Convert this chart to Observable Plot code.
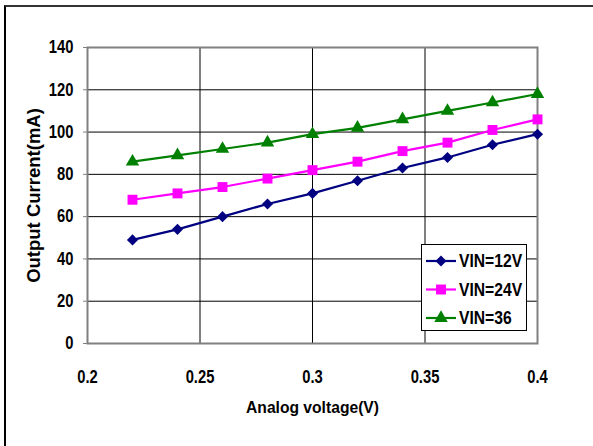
<!DOCTYPE html>
<html>
<head>
<meta charset="utf-8">
<script src="https://cdn.jsdelivr.net/npm/d3@7"></script>
<script src="https://cdn.jsdelivr.net/npm/@observablehq/plot@0.6"></script>
<style>
  html, body { margin: 0; padding: 0; background: #fff; overflow: hidden; width: 593px; height: 446px; }
  #outer { position: absolute; left: 4px; top: 5px; width: 700px; height: 500px; border-left: 2px solid #000; border-top: 2px solid #333; }
  #chart { position: absolute; left: 0; top: 0; }
  #legend { position: absolute; left: 421px; top: 244px; width: 104px; height: 85px; border: 1px solid #000; background: #fff; }
  #legend svg { overflow: visible; display: block; }
</style>
</head>
<body>
<div id="outer"></div>
<div id="chart"></div>
<div id="legend"></div>
<script>
const xValues = [0.22, 0.24, 0.26, 0.28, 0.30, 0.32, 0.34, 0.36, 0.38, 0.40];
const vin12 = [49, 54, 60, 66, 71, 77, 83, 88, 94, 99];
const vin24 = [68, 71, 74, 78, 82, 86, 91, 95, 101, 106];
const vin36 = [86, 89, 92, 95, 99, 102, 106, 110, 114, 118];
const seriesNames = ["VIN=12V", "VIN=24V", "VIN=36"];
const seriesColors = ["#000080", "#FF00FF", "#008000"];
const seriesSymbols = ["diamond2", "square", "triangle"];
const seriesR = [5, 5.6, 5];
const xTicks = [0.2, 0.25, 0.3, 0.35, 0.4];
const xTickLabels = ["0.2", "0.25", "0.3", "0.35", "0.4"];
const yTicks = [0, 20, 40, 60, 80, 100, 120, 140];
const xTitle = "Analog voltage(V)";
const yTitle = "Output Current(mA)";

const FONT = "'Liberation Sans', Arial, sans-serif";

const rows = [];
[vin12, vin24, vin36].forEach((vals, i) =>
  vals.forEach((v, j) => rows.push({ x: xValues[j], y: v, s: seriesNames[i] }))
);

const dotMarks = seriesNames.map((name, i) =>
  Plot.dot(rows.filter(d => d.s === name), {
    x: "x", y: "y", fill: seriesColors[i], stroke: "none",
    symbol: () => seriesSymbols[i], r: seriesR[i]
  })
);

const chart = Plot.plot({
  width: 593,
  height: 446,
  marginLeft: 87,
  marginRight: 56,
  marginTop: 47,
  marginBottom: 103,
  style: { fontFamily: FONT, fontWeight: "bold", fontSize: "18px", color: "#000", background: "transparent" },
  x: { domain: [0.2, 0.4] },
  y: { domain: [0, 140] },
  symbol: { type: "identity" },
  marks: [
    Plot.gridX(xTicks.slice(1, -1), { stroke: "#000", strokeOpacity: 1, strokeWidth: 1 }),
    Plot.gridY(yTicks.slice(1, -1), { stroke: "#000", strokeOpacity: 1, strokeWidth: 1 }),
    Plot.frame({ stroke: "#808080", strokeWidth: 2 }),
    Plot.axisX({ ticks: xTicks, tickFormat: (d, i) => xTickLabels[i], tickSize: 0, tickPadding: 27, label: xTitle, labelAnchor: "center", labelOffset: 69, labelArrow: "none", fill: "#000" }),
    Plot.axisY({ ticks: yTicks, tickSize: 4, tickPadding: 10, stroke: "#808080", label: yTitle, labelAnchor: "center", labelOffset: 61, labelArrow: "none", fill: "#000" }),
    Plot.line(rows, { x: "x", y: "y", z: "s", stroke: d => seriesColors[seriesNames.indexOf(d.s)], strokeWidth: 2.2 }),
    ...dotMarks
  ]
});
document.getElementById("chart").appendChild(chart);

// Legend
const lg = d3.select("#legend").append("svg").attr("width", 104).attr("height", 85)
  .style("font-family", FONT).style("font-weight", "bold").style("font-size", "18px");
const symMap = { diamond2: d3.symbolDiamond2, square: d3.symbolSquare, triangle: d3.symbolTriangle };
seriesNames.forEach((name, i) => {
  const cy = 16 + i * 28.5;
  const g = lg.append("g");
  g.append("line").attr("x1", 4).attr("x2", 34).attr("y1", cy).attr("y2", cy)
    .attr("stroke", seriesColors[i]).attr("stroke-width", 2.2);
  g.append("path").attr("transform", `translate(19,${cy})`)
    .attr("d", d3.symbol(symMap[seriesSymbols[i]], Math.PI * seriesR[i] * seriesR[i])())
    .attr("fill", seriesColors[i]);
  g.append("text").attr("x", 37).attr("y", cy).attr("dy", "0.36em").attr("fill", "#000").text(name);
});

// Narrow the bold labels horizontally (the reference uses a condensed face)
function squeeze(el, k) {
  const L = el.getComputedTextLength();
  el.setAttribute("textLength", (L * k).toFixed(2));
  el.setAttribute("lengthAdjust", "spacingAndGlyphs");
}
document.querySelectorAll("#chart text").forEach(el => {
  if (el.textContent === yTitle) {
    el.style.fontSize = "18.5px";
  } else if (el.textContent === xTitle) {
    el.style.fontSize = "17px";
    squeeze(el, 0.92);
  } else {
    squeeze(el, 0.82);
  }
});
document.querySelectorAll("#legend text").forEach(el => squeeze(el, 0.87));
</script>
</body>
</html>
